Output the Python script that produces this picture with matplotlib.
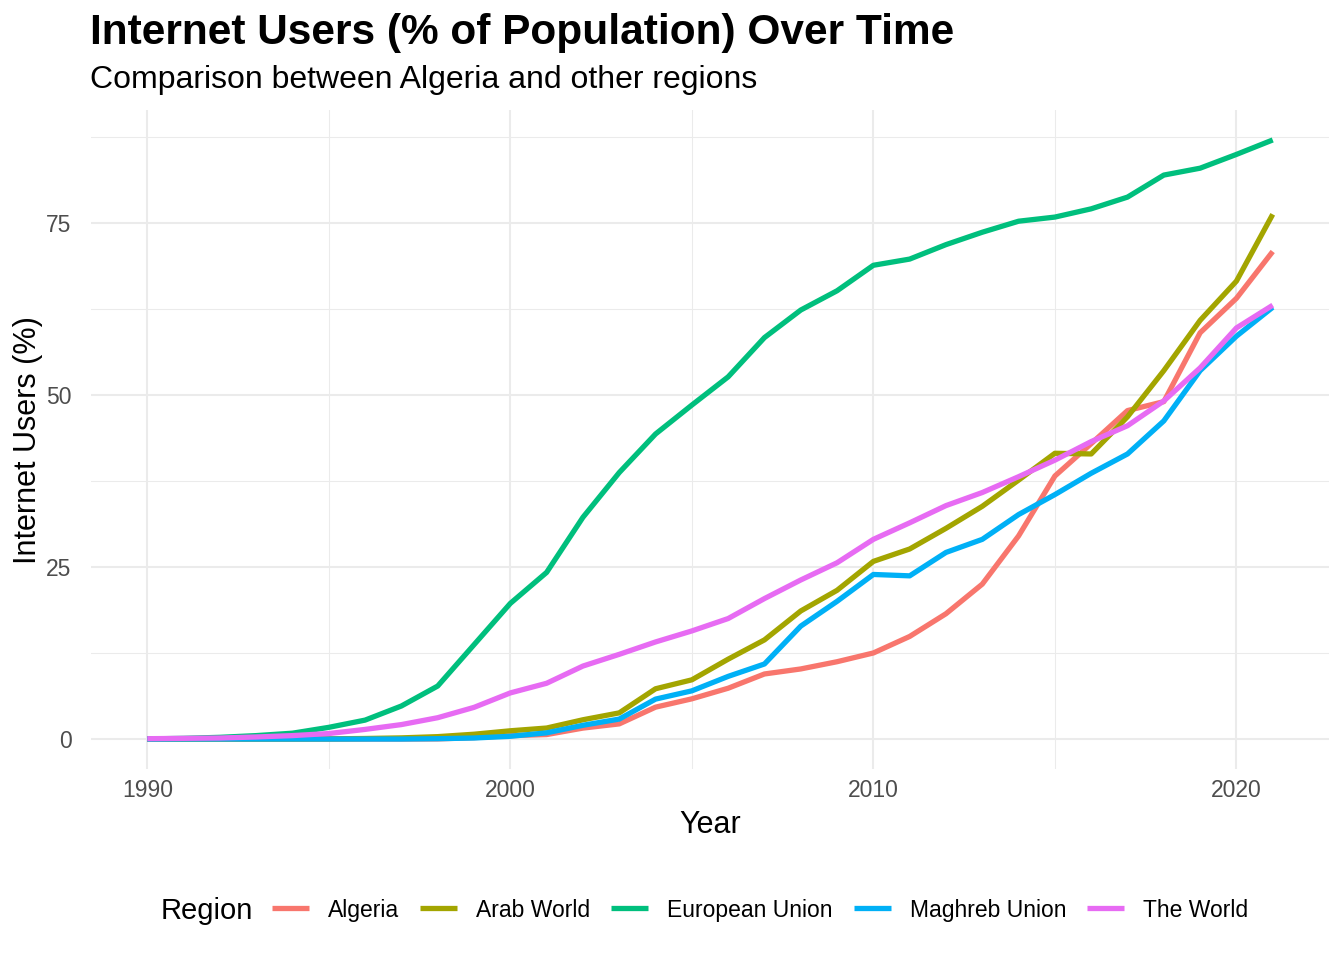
import matplotlib
matplotlib.use("Agg")
import matplotlib.pyplot as plt
from matplotlib.lines import Line2D
from matplotlib.ticker import MultipleLocator

plt.rcParams['font.family'] = ['Liberation Sans', 'DejaVu Sans']

# years 1990-2021
years = list(range(1990, 2022))

algeria = [0, 0, 0, 0, 0, 0, 0, 0, 0.02, 0.2, 0.49, 0.65, 1.59, 2.2, 4.63, 5.84,
           7.38, 9.45, 10.18, 11.23, 12.5, 14.9, 18.2, 22.5, 29.5, 38.2, 42.9,
           47.7, 49.0, 59.0, 64.0, 70.8]
arab_world = [0, 0, 0, 0, 0.01, 0.03, 0.08, 0.17, 0.35, 0.7, 1.2, 1.6, 2.8, 3.8,
              7.3, 8.6, 11.6, 14.4, 18.6, 21.6, 25.8, 27.6, 30.6, 33.8, 37.6,
              41.5, 41.4, 46.8, 53.5, 60.8, 66.5, 76.2]
european_union = [0.02, 0.1, 0.25, 0.5, 0.85, 1.7, 2.75, 4.8, 7.7, 13.7, 19.7,
                  24.2, 32.2, 38.7, 44.3, 48.5, 52.6, 58.3, 62.3, 65.1, 68.8,
                  69.7, 71.8, 73.6, 75.2, 75.8, 77.0, 78.7, 81.9, 82.9, 84.9, 87.0]
maghreb_union = [0, 0, 0, 0, 0, 0, 0, 0, 0.05, 0.15, 0.4, 0.9, 2.0, 2.9, 5.8, 7.0,
                 9.1, 10.9, 16.4, 20.0, 23.9, 23.7, 27.1, 29.0, 32.6, 35.5, 38.6,
                 41.4, 46.2, 53.5, 58.5, 62.7]
the_world = [0.05, 0.1, 0.15, 0.3, 0.5, 0.8, 1.4, 2.1, 3.1, 4.6, 6.7, 8.1, 10.6,
             12.3, 14.1, 15.7, 17.5, 20.4, 23.1, 25.6, 29.0, 31.4, 33.9, 35.8,
             38.1, 40.5, 43.2, 45.5, 49.1, 53.9, 59.7, 63.0]

regions = ['Algeria', 'Arab World', 'European Union', 'Maghreb Union', 'The World']
series = [algeria, arab_world, european_union, maghreb_union, the_world]
colors = ['#F8766D', '#A3A500', '#00BF7D', '#00B0F6', '#E76BF3']

W, H = 1344, 960
fig = plt.figure(figsize=(W / 100, H / 100), dpi=100)
ax = fig.add_axes([91 / W, 1 - 769 / H, (1329 - 91) / W, (769 - 110) / H])

for name, vals, c in zip(regions, series, colors):
    ax.plot(years, vals, color=c, linewidth=3.8, label=name, solid_capstyle='butt')

# ggplot-like expansion
ax.set_xlim(1990 - 0.05 * 31, 2021 + 0.05 * 31)
ax.set_ylim(-0.05 * 87, 87 * 1.05)

ax.xaxis.set_major_locator(MultipleLocator(10))
ax.xaxis.set_minor_locator(MultipleLocator(5))
ax.yaxis.set_major_locator(MultipleLocator(25))
ax.yaxis.set_minor_locator(MultipleLocator(12.5))

ax.grid(True, which='major', color='#EBEBEB', linewidth=1.5)
ax.grid(True, which='minor', color='#EBEBEB', linewidth=0.75)
ax.set_axisbelow(True)
for s in ax.spines.values():
    s.set_visible(False)
ax.tick_params(which='both', length=0)
ax.tick_params(axis='x', labelsize=16.5, labelcolor='#4D4D4D', pad=7)
ax.tick_params(axis='y', labelsize=16.5, labelcolor='#4D4D4D', pad=14)

# axis titles
fig.text(710 / W, 1 - 825 / H, 'Year', fontsize=22, ha='center', va='center')
fig.text(28 / W, 1 - 440 / H, 'Internet Users (%)', fontsize=22, rotation=90,
         ha='center', va='center')

fig.text(90 / W, 1 - 33 / H, 'Internet Users (% of Population) Over Time',
         fontsize=30.5, fontweight='bold', ha='left', va='center')
fig.text(90 / W, 1 - 80 / H, 'Comparison between Algeria and other regions',
         fontsize=23, ha='left', va='center')

# legend drawn by hand so that all labels share one baseline
leg_y = 1 - 908 / H
fig.text(161 / W, leg_y, 'Region', fontsize=21, ha='left', va='center_baseline')
renderer = fig.canvas.get_renderer()
x = 272
key_len, gap_after_key, gap_after_text = 37, 19, 21
for name, c in zip(regions, colors):
    fig.add_artist(Line2D([x / W, (x + key_len) / W], [leg_y, leg_y],
                          transform=fig.transFigure, color=c, linewidth=3.8,
                          solid_capstyle='butt'))
    x += key_len + gap_after_key
    t = fig.text(x / W, leg_y, name, fontsize=16.5, ha='left', va='center_baseline')
    x += t.get_window_extent(renderer).width + gap_after_text

fig.savefig('out.png', dpi=100, facecolor='white')
